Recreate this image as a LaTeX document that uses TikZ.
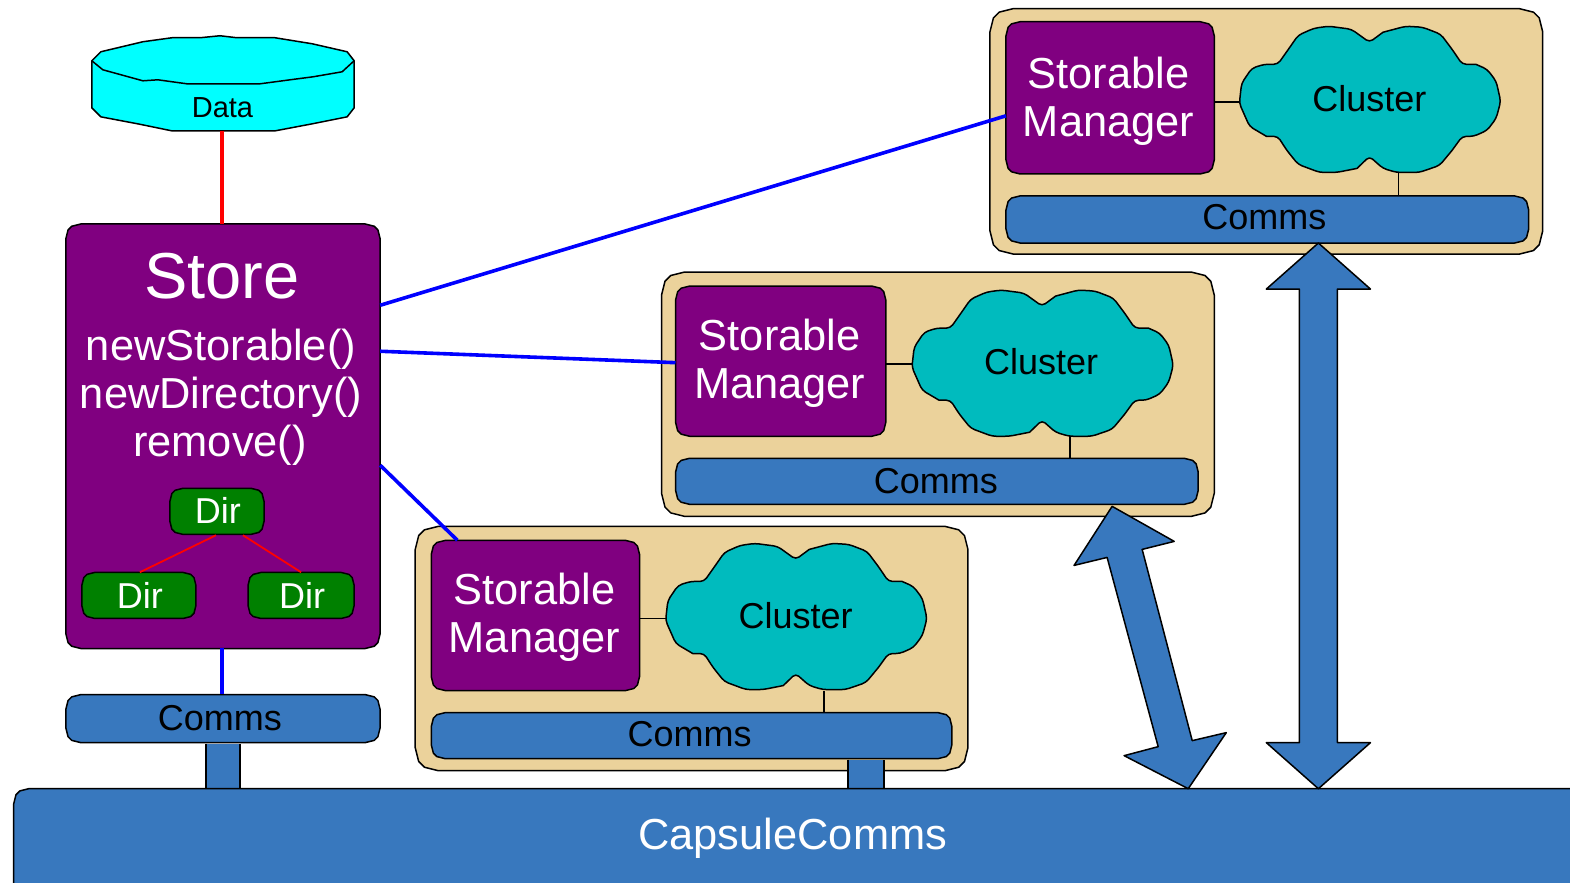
\documentclass[tikz,border=0pt]{standalone}
\usepackage{fontspec}
\setmainfont{Liberation Sans}
\usetikzlibrary{calc}
\definecolor{pur}{HTML}{800080}
\definecolor{tan1}{HTML}{EBD29B}
\definecolor{blu}{HTML}{3878BE}
\definecolor{teal1}{HTML}{00BBBE}
\definecolor{grn}{HTML}{008000}
\definecolor{cyn}{HTML}{00FFFF}
\definecolor{pureblue}{RGB}{0,0,255}
\newcommand{\fs}[1]{\fontsize{#1}{48}\selectfont}
\tikzset{
  outl/.style={draw=black,line width=1.5pt,line join=round},
  anchorbox/.style={rectangle,inner sep=0pt,draw=none,anchor=center},
  lbl/.style={inner sep=0pt,align=center},
  wire/.style={line width=1.5pt,draw=black},
  bluewire/.style={line width=3.6pt,draw=pureblue},
  redwire/.style={line width=3.6pt,draw=red},
  dirwire/.style={line width=1.8pt,draw=red},
  bigarrow/.style={outl,fill=blu},
}
% [r] name, x1,y1,x2,y2, fill : a many-sided rounded box and its named node
\newcommand{\rb}[7][15]{%
  \path[outl,fill=#7]
    ({#3+#1},#4) -- ({#5-#1},#4) -- ({#5-0.4*#1},{#4+0.15*#1}) -- ({#5-0.15*#1},{#4+0.4*#1}) -- (#5,{#4+#1}) --
    (#5,{#6-#1}) -- ({#5-0.15*#1},{#6-0.4*#1}) -- ({#5-0.4*#1},{#6-0.15*#1}) -- ({#5-#1},#6) --
    ({#3+#1},#6) -- ({#3+0.4*#1},{#6-0.15*#1}) -- ({#3+0.15*#1},{#6-0.4*#1}) -- (#3,{#6-#1}) --
    (#3,{#4+#1}) -- ({#3+0.15*#1},{#4+0.4*#1}) -- ({#3+0.4*#1},{#4+0.15*#1}) -- cycle;
  \node[anchorbox,minimum width={(#5-#3)*1pt},minimum height={(#6-#4)*1pt}] (#2) at ({(#3+#5)/2},{(#4+#6)/2}) {};}
\newcommand{\cloudat}[2]{%
  \begin{scope}[shift={(#1,#2)},xscale=1.13]
  \path[outl,fill=teal1,rounded corners=4pt] (32,-73) -- (47,-72) -- (63,-65) -- (73,-50) -- (82,-35) [sharp corners] -- (94,-35) [rounded corners=4pt] -- (104,-30) -- (112,-18) -- (116,2) -- (112,19) -- (104,31) -- (92,37) -- (82,37) [sharp corners] -- (73,51) [rounded corners=4pt] -- (62,66) -- (44,73) -- (24,73) -- (12,69) -- (0,57) [sharp corners] -- (-11,69) [rounded corners=4pt] -- (-29,73) -- (-44,73) -- (-63,65) -- (-73,51) -- (-81,37) [sharp corners] -- (-91,37) [rounded corners=4pt] -- (-106,27) -- (-115,4) -- (-113,-16) -- (-104,-31) -- (-93,-35) -- (-81,-35) [sharp corners] -- (-71,-51) [rounded corners=4pt] -- (-63,-64) -- (-49,-71) -- (-36,-73) -- (-16,-70) -- (0,-57) [sharp corners] -- (12,-67) [rounded corners=4pt] -- cycle;
  \end{scope}}
\begin{document}
\begin{tikzpicture}[x=1.00128pt,y=-1.00128pt]
\useasboundingbox (0.3,0.3) rectangle (1568.3,881.2);
\fill[white] (0.3,0.3) rectangle (1568.3,881.2);

% Data
\path[outl,fill=cyn] (92,61) -- (101,52) -- (143,42) -- (172,38) -- (200,38) -- (220,36) -- (237,38) -- (275,38) -- (312,44) -- (347,52) -- (354,61) -- (354,108) -- (347,117) -- (312,124) -- (275,131) -- (172,131) -- (138,124) -- (101,117) -- (92,108) -- cycle;
\draw[outl] (92,61) -- (103,70) -- (143,81) -- (158,80) -- (187,84) -- (260,84) -- (290,80) -- (313,77) -- (342,72) -- (354,61);
\node[lbl,font=\fs{29}] (data) at (222.5,108) {Data};
\coordinate (datab) at (222,131);

% Store
\rb{store}{66}{224}{380}{648}{pur}
\node[lbl,text=white,font=\fs{65}] (storet) at (222,276) {Store};
\node[lbl,text=white,font=\fs{43.4}] (m1) at (221,349) {newStorable()};
\node[lbl,text=white,font=\fs{43.4}] (m2) at (221,397) {newDirectory()};
\node[lbl,text=white,font=\fs{43.4}] (m3) at (220,445) {remove()};
\rb[13]{d0}{170}{488}{264}{534}{grn}
\rb[13]{dl}{82}{572}{196}{618}{grn}
\rb[13]{dr}{248}{572}{354}{618}{grn}
\node[lbl,text=white,font=\fs{36}] at (218,510.5) {Dir};
\node[lbl,text=white,font=\fs{36}] at (140,594.5) {Dir};
\node[lbl,text=white,font=\fs{36}] at (302,594.5) {Dir};
\draw[dirwire] ([xshift=-1pt,yshift=-0.7pt]d0.south) -- ([xshift=1pt]dl.north);
\draw[dirwire] ([xshift=26pt,yshift=-0.7pt]d0.south) -- (dr.north);

% Store comms
\rb{sc}{66}{694}{380}{742}{blu}
\node[lbl,font=\fs{36}] at (220,717) {Comms};

% Capsule 3 (bottom)
\rb[23]{c3}{415}{526}{967}{770}{tan1}
\rb[14]{sm3}{431}{540}{639}{690}{pur}
\rb[14]{co3}{431}{712}{951}{758}{blu}
\cloudat{795}{616}
\node[lbl,font=\fs{36}] (cl3) at (795,615) {Cluster};
\node[lbl,text=white,font=\fs{43.4}] (t3) at (534,617) {Storable\\Manager};
\node[lbl,font=\fs{36}] at (689,733) {Comms};
\draw[wire] (639,618) -- (665,618);
\draw[wire] (823,690) -- (823,712);

% Capsule 2 (middle)
\rb[23]{c2}{661}{272}{1213}{516}{tan1}
\rb[14]{sm2}{675}{286}{885}{436}{pur}
\rb[14]{co2}{675}{458}{1197}{504}{blu}
\cloudat{1041}{363}
\node[lbl,font=\fs{36}] (cl2) at (1040,361) {Cluster};
\node[lbl,text=white,font=\fs{43.4}] (t2) at (779,363) {Storable\\Manager};
\node[lbl,font=\fs{36}] at (935,481) {Comms};
\draw[wire] (885,364) -- (911,364);
\draw[wire] (1069,436) -- (1069,458);

% Capsule 1 (top)
\rb[23]{c1}{989}{9}{1541}{254}{tan1}
\rb[14]{sm1}{1005}{22}{1213}{174}{pur}
\rb[14]{co1}{1005}{196}{1527}{243}{blu}
\cloudat{1368}{99.5}
\node[lbl,font=\fs{36}] (cl1) at (1368,99) {Cluster};
\node[lbl,text=white,font=\fs{43.4}] (t1) at (1107.5,101) {Storable\\Manager};
\node[lbl,font=\fs{36}] at (1263,217) {Comms};
\draw[wire] (1213,102) -- (1238,102);
\draw[wire] (1397,173) -- (1397,196);

% Connectors
\draw[redwire] (datab) -- (datab |- store.north);
\draw[bluewire] ([xshift=-1pt]store.south) -- ([xshift=-1pt]sc.north);
\draw[bluewire] ([yshift=131pt]store.east) -- ([yshift=-18pt]sm1.west);
\draw[bluewire] ([yshift=85pt]store.east) -- ([yshift=-1.5pt]sm2.west);
\draw[bluewire] ([yshift=-29pt]store.east) -- ([xshift=-78pt]sm3.north);

% Stubs
\path[outl,fill=blu] (206,743) -- (206,789) -- (240,789) -- (240,743);
\path[outl,fill=blu] (847,759) -- (847,789) -- (883,789) -- (883,759);

% CapsuleComms
\rb{cc}{14}{788}{1620}{910}{blu}
\node[lbl,text=white,font=\fs{43.4}] (cct) at (792,838) {CapsuleComms};

% Big arrows
\path[bigarrow] (1317,243) -- (1369,289) -- (1336,289) -- (1336,742) -- (1369,742) -- (1317,788) -- (1265,742) -- (1298,742) -- (1298,289) -- (1265,289) -- cycle;
\path[bigarrow] (1111,506) -- (1173,541) -- (1141,549) -- (1191,740) -- (1225,732) -- (1187,788) -- (1123,755) -- (1157,746) -- (1106,557) -- (1073,565) -- cycle;
\end{tikzpicture}
\end{document}
